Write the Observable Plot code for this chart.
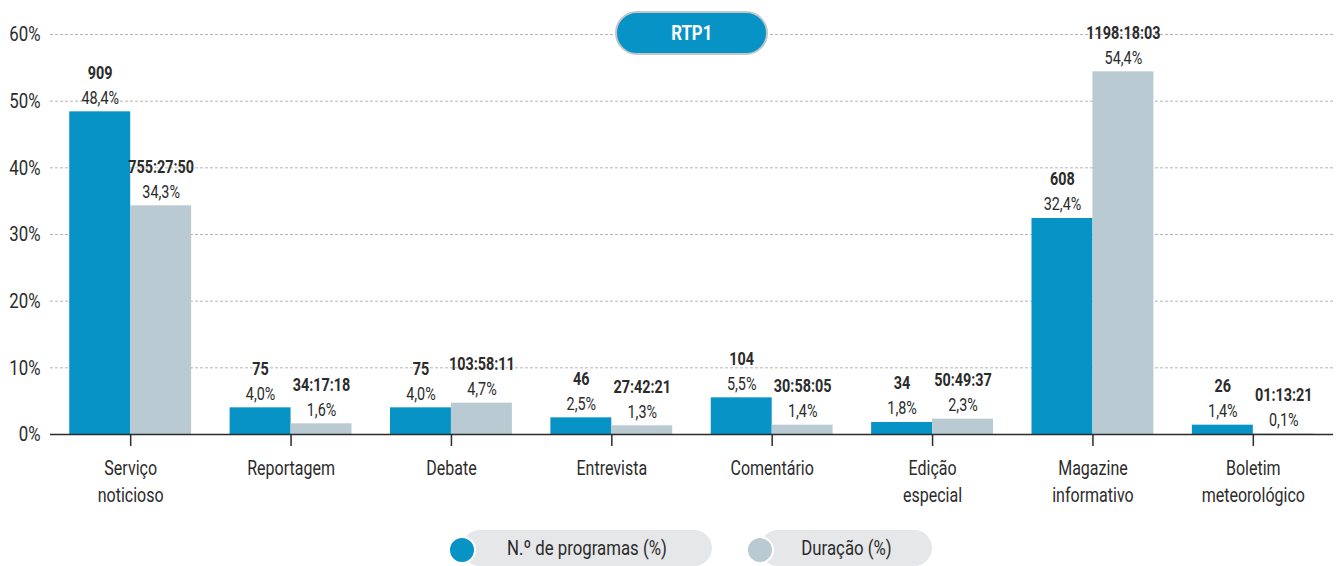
<!DOCTYPE html>
<html>
<head>
<meta charset="utf-8">
<script src="https://cdn.jsdelivr.net/npm/d3@7"></script>
<script src="https://cdn.jsdelivr.net/npm/@observablehq/plot@0.6"></script>
<style>
  html, body { margin: 0; padding: 0; background: #fff; }
  body { width: 1336px; height: 566px; overflow: hidden; font-family: Roboto, sans-serif; }
  #wrap { position: relative; width: 1336px; height: 566px; }
  #title { position: absolute; left: 615px; top: 11px; width: 149px; height: 40px; border-radius: 22px;
    background: #0793c6; border: 2px solid #c3c6c9; color: #fff; font-weight: bold; font-size: 21px;
    display: flex; align-items: center; justify-content: center; }
  #legend { position: absolute; left: 0; top: 520px; width: 1336px; height: 46px; }
  .item { position: absolute; top: 10px; height: 36px; border-radius: 18px; background: #e6e7e8;
    font-size: 21px; color: #2b2b2b; display: flex; align-items: center; justify-content: center; box-sizing: border-box; }
  .cond { display: inline-block; transform: scaleX(0.8); white-space: nowrap; }
  .dot { position: absolute; top: 16px; width: 24px; height: 24px; border-radius: 50%; border: 2px solid #fff; box-sizing: content-box; }
</style>
</head>
<body>
<div id="wrap">
  <div id="chart"></div>
  <div id="title"><span class="cond">RTP1</span></div>
  <div id="legend"></div>
</div>
<script>
const categories = ["Serviço\nnoticioso", "Reportagem", "Debate", "Entrevista", "Comentário", "Edição\nespecial", "Magazine\ninformativo", "Boletim\nmeteorológico"];
const programasPct = [48.4, 4.0, 4.0, 2.5, 5.5, 1.8, 32.4, 1.4];
const programasN = ["909", "75", "75", "46", "104", "34", "608", "26"];
const duracaoPct = [34.3, 1.6, 4.7, 1.3, 1.4, 2.3, 54.4, 0.1];
const duracaoTime = ["755:27:50", "34:17:18", "103:58:11", "27:42:21", "30:58:05", "50:49:37", "1198:18:03", "01:13:21"];
const yTicks = [0, 10, 20, 30, 40, 50, 60];
const seriesNames = ["N.º de programas (%)", "Duração (%)"];
const seriesColors = ["#0793c6", "#b9cad2"];

const fmt = v => v.toFixed(1).replace(".", ",") + "%";
const barW = 0.38;
const rows = categories.map((c, i) => ({i, c}));
const prog = rows.map(r => ({i: r.i, v: programasPct[r.i], n: programasN[r.i], x1: r.i - barW, x2: r.i, xm: r.i - barW / 2}));
const dur = rows.map(r => ({i: r.i, v: duracaoPct[r.i], n: duracaoTime[r.i], x1: r.i, x2: r.i + barW, xm: r.i + barW / 2}));

const ink = "#2b2b2b";
const chart = Plot.plot({
  width: 1336,
  height: 520,
  marginLeft: 50,
  marginRight: 3,
  marginTop: 34,
  marginBottom: 86,
  style: {fontFamily: "Roboto, sans-serif", color: ink, background: "#fff"},
  x: {domain: [-0.5, 7.5], axis: null},
  y: {domain: [0, 60], axis: null},
  marks: [
    Plot.ruleY(yTicks.filter(t => t > 0), {stroke: "#b5b5b5", strokeWidth: 1, strokeDasharray: "3,2"}),
    Plot.text(yTicks, {y: d => d, text: d => d + "%", textAnchor: "end", dx: -10, fontSize: 21, fill: ink, frameAnchor: "left"}),
    Plot.rectY(prog, {x1: "x1", x2: "x2", y: "v", fill: seriesColors[0]}),
    Plot.rectY(dur, {x1: "x1", x2: "x2", y: "v", fill: seriesColors[1]}),
    Plot.ruleY([0], {stroke: ink, strokeWidth: 1.5}),
    Plot.axisX({ticks: d3.range(categories.length), tickFormat: () => "", tickSize: 12, stroke: ink, strokeWidth: 1.5}),
    Plot.text(rows, {x: "i", y: 0, text: "c", dy: 22, lineAnchor: "top", lineHeight: 1.32, fontSize: 20, fill: ink}),
    Plot.text(prog, {x: "xm", y: "v", text: d => fmt(d.v), dy: -14, fontSize: 18, fill: ink}),
    Plot.text(prog, {x: "xm", y: "v", text: "n", dy: -39, fontSize: 18, fontWeight: "bold", fill: ink}),
    Plot.text(dur, {x: "xm", y: "v", text: d => fmt(d.v), dy: -14, fontSize: 18, fill: ink}),
    Plot.text(dur, {x: "xm", y: "v", text: "n", dy: -39, fontSize: 18, fontWeight: "bold", fill: ink})
  ]
});
// condense the glyphs horizontally around each label's anchor (the source uses a condensed typeface)
d3.select(chart).selectAll("text").each(function () {
  const t = this.getAttribute("transform");
  if (t) this.setAttribute("transform", t + " scale(0.8,1)");
});
document.getElementById("chart").appendChild(chart);

const legend = document.getElementById("legend");
const items = [{left: 462, right: 712}, {left: 760, right: 932}];
seriesNames.forEach((name, k) => {
  const it = document.createElement("div");
  it.className = "item";
  it.style.left = items[k].left + "px";
  it.style.width = (items[k].right - items[k].left) + "px";
  it.style.paddingLeft = "0px";
  const s = document.createElement("span");
  s.className = "cond";
  s.textContent = name;
  it.appendChild(s);
  legend.appendChild(it);
  const dot = document.createElement("div");
  dot.className = "dot";
  dot.style.left = (items[k].left - 14) + "px";
  dot.style.background = seriesColors[k];
  legend.appendChild(dot);
});
</script>
</body>
</html>
